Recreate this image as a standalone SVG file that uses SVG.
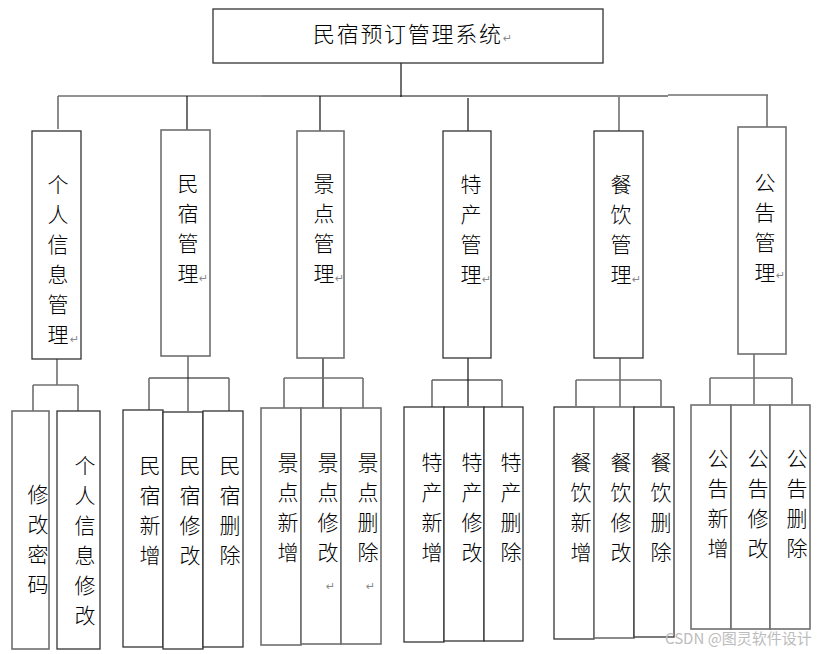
<svg xmlns="http://www.w3.org/2000/svg" width="825" height="654" viewBox="0 0 825 654">
<style>
.b{fill:#fff;stroke:#333;stroke-width:1.3}
.g{fill:#fff;stroke:#6f6f6f;stroke-width:1.6}
.lk{stroke:#111;stroke-width:1.2;fill:none}
.lg{stroke:#6f6f6f;stroke-width:1.6;fill:none}
.t{font-family:"Noto Sans CJK SC","Noto Sans CJK JP",sans-serif;font-weight:300;font-size:21px;fill:#000;text-anchor:middle}
.tt{font-family:"Noto Sans CJK SC","Noto Sans CJK JP",sans-serif;font-weight:300;font-size:22px;fill:#000;letter-spacing:1.7px}
.r{font-family:"DejaVu Sans",sans-serif;font-size:11px;fill:#888}
.wm{font-family:"Noto Sans CJK SC","Liberation Sans",sans-serif;font-size:15px;fill:#bcbcbc}
</style>
<rect width="825" height="654" fill="#fff"/>
<g id="connectors">
<line class="lk" x1="401" y1="63" x2="401" y2="97"/>
<line class="lg" x1="58" y1="96" x2="262" y2="96"/>
<line class="lk" x1="262" y1="96" x2="668" y2="96"/>
<line class="lg" x1="668" y1="95" x2="768" y2="95"/>
<line class="lg" x1="58" y1="96" x2="58" y2="129"/>
<line class="lk" x1="187" y1="96" x2="187" y2="130"/>
<line class="lk" x1="320" y1="96" x2="320" y2="131"/>
<line class="lk" x1="468" y1="98" x2="468" y2="131"/>
<line class="lg" x1="619" y1="97" x2="619" y2="131"/>
<line class="lg" x1="767" y1="95" x2="767" y2="127"/>
<line class="lg" x1="57" y1="359" x2="57" y2="385"/>
<line class="lg" x1="33" y1="385" x2="78" y2="385"/>
<line class="lg" x1="33" y1="385" x2="33" y2="411"/>
<line class="lg" x1="78" y1="385" x2="78" y2="411"/>
<line class="lg" x1="188" y1="356" x2="188" y2="411"/>
<line class="lk" x1="149" y1="378" x2="229" y2="378"/>
<line class="lg" x1="149" y1="378" x2="149" y2="410"/>
<line class="lg" x1="229" y1="378" x2="229" y2="411"/>
<line class="lk" x1="323" y1="358" x2="323" y2="408"/>
<line class="lg" x1="284" y1="378" x2="363" y2="378"/>
<line class="lg" x1="284" y1="378" x2="284" y2="408"/>
<line class="lg" x1="363" y1="378" x2="363" y2="408"/>
<line class="lk" x1="468" y1="358" x2="468" y2="406"/>
<line class="lk" x1="432" y1="380" x2="502" y2="380"/>
<line class="lg" x1="432" y1="380" x2="432" y2="407"/>
<line class="lg" x1="502" y1="380" x2="502" y2="407"/>
<line class="lg" x1="620" y1="358" x2="620" y2="407"/>
<line class="lg" x1="576" y1="380" x2="661" y2="380"/>
<line class="lg" x1="576" y1="380" x2="576" y2="406"/>
<line class="lg" x1="661" y1="380" x2="661" y2="406"/>
<line class="lg" x1="754" y1="354" x2="754" y2="404"/>
<line class="lg" x1="710" y1="378" x2="792" y2="378"/>
<line class="lg" x1="710" y1="378" x2="710" y2="404"/>
<line class="lg" x1="792" y1="378" x2="792" y2="404"/>
</g>
<g id="root">
<rect class="b" x="213" y="9" width="390" height="54"/>
<text class="tt" x="313" y="42">民宿预订管理系统</text>
<text class="r" x="503" y="42">↵</text>
</g>
<g id="n1">
<rect class="b" x="32" y="131" width="49" height="228"/>
<text class="t" y="192"><tspan x="58">个</tspan><tspan x="58" dy="30">人</tspan><tspan x="58" dy="30">信</tspan><tspan x="58" dy="30">息</tspan><tspan x="58" dy="30">管</tspan><tspan x="58" dy="30">理</tspan></text>
<text class="r" x="70" y="343">↵</text>
</g>
<g id="n2">
<rect class="g" x="161" y="130" width="49" height="226"/>
<text class="t" y="191"><tspan x="188">民</tspan><tspan x="188" dy="30">宿</tspan><tspan x="188" dy="30">管</tspan><tspan x="188" dy="30">理</tspan></text>
<text class="r" x="199" y="282">↵</text>
</g>
<g id="n3">
<rect class="g" x="297" y="131" width="47" height="227"/>
<text class="t" y="191"><tspan x="324">景</tspan><tspan x="324" dy="30">点</tspan><tspan x="324" dy="30">管</tspan><tspan x="324" dy="30">理</tspan></text>
<text class="r" x="335" y="282">↵</text>
</g>
<g id="n4">
<rect class="b" x="443" y="131" width="48" height="227"/>
<text class="t" y="192"><tspan x="471">特</tspan><tspan x="471" dy="30">产</tspan><tspan x="471" dy="30">管</tspan><tspan x="471" dy="30">理</tspan></text>
<text class="r" x="482" y="283">↵</text>
</g>
<g id="n5">
<rect class="b" x="594" y="131" width="49" height="227"/>
<text class="t" y="192"><tspan x="621">餐</tspan><tspan x="621" dy="30">饮</tspan><tspan x="621" dy="30">管</tspan><tspan x="621" dy="30">理</tspan></text>
<text class="r" x="632" y="283">↵</text>
</g>
<g id="n6">
<rect class="g" x="738" y="127" width="48" height="227"/>
<text class="t" y="190"><tspan x="765">公</tspan><tspan x="765" dy="30">告</tspan><tspan x="765" dy="30">管</tspan><tspan x="765" dy="30">理</tspan></text>
<text class="r" x="776" y="279">↵</text>
</g>
<g id="n1a">
<rect class="g" x="12" y="411" width="37" height="238"/>
<text class="t" y="502"><tspan x="38">修</tspan><tspan x="38" dy="30">改</tspan><tspan x="38" dy="30">密</tspan><tspan x="38" dy="30">码</tspan></text>
</g>
<g id="n1b">
<rect class="b" x="57" y="411" width="43" height="238"/>
<text class="t" y="473"><tspan x="85">个</tspan><tspan x="85" dy="30">人</tspan><tspan x="85" dy="30">信</tspan><tspan x="85" dy="30">息</tspan><tspan x="85" dy="30">修</tspan><tspan x="85" dy="30">改</tspan></text>
</g>
<g id="n2a">
<rect class="b" x="123" y="410" width="40" height="237"/>
<text class="t" y="473"><tspan x="150">民</tspan><tspan x="150" dy="30">宿</tspan><tspan x="150" dy="30">新</tspan><tspan x="150" dy="30">增</tspan></text>
</g>
<g id="n2b">
<rect class="b" x="163" y="412" width="40" height="237"/>
<text class="t" y="473"><tspan x="190">民</tspan><tspan x="190" dy="30">宿</tspan><tspan x="190" dy="30">修</tspan><tspan x="190" dy="30">改</tspan></text>
</g>
<g id="n2c">
<rect class="b" x="203" y="411" width="40" height="236"/>
<text class="t" y="473"><tspan x="230">民</tspan><tspan x="230" dy="30">宿</tspan><tspan x="230" dy="30">删</tspan><tspan x="230" dy="30">除</tspan></text>
</g>
<g id="n3a">
<rect class="g" x="261" y="408" width="40" height="237"/>
<text class="t" y="470"><tspan x="288">景</tspan><tspan x="288" dy="30">点</tspan><tspan x="288" dy="30">新</tspan><tspan x="288" dy="30">增</tspan></text>
</g>
<g id="n3b">
<rect class="g" x="301" y="408" width="40" height="236"/>
<text class="t" y="470"><tspan x="328">景</tspan><tspan x="328" dy="30">点</tspan><tspan x="328" dy="30">修</tspan><tspan x="328" dy="30">改</tspan></text>
<text class="r" x="326" y="590">↵</text>
</g>
<g id="n3c">
<rect class="g" x="341" y="408" width="40" height="236"/>
<text class="t" y="470"><tspan x="368">景</tspan><tspan x="368" dy="30">点</tspan><tspan x="368" dy="30">删</tspan><tspan x="368" dy="30">除</tspan></text>
<text class="r" x="366" y="590">↵</text>
</g>
<g id="n4a">
<rect class="b" x="404" y="407" width="40" height="235"/>
<text class="t" y="470"><tspan x="432">特</tspan><tspan x="432" dy="30">产</tspan><tspan x="432" dy="30">新</tspan><tspan x="432" dy="30">增</tspan></text>
</g>
<g id="n4b">
<rect class="b" x="444" y="407" width="40" height="234"/>
<text class="t" y="470"><tspan x="472">特</tspan><tspan x="472" dy="30">产</tspan><tspan x="472" dy="30">修</tspan><tspan x="472" dy="30">改</tspan></text>
</g>
<g id="n4c">
<rect class="b" x="484" y="407" width="39" height="234"/>
<text class="t" y="470"><tspan x="511">特</tspan><tspan x="511" dy="30">产</tspan><tspan x="511" dy="30">删</tspan><tspan x="511" dy="30">除</tspan></text>
</g>
<g id="n5a">
<rect class="b" x="554" y="407" width="40" height="232"/>
<text class="t" y="470"><tspan x="581">餐</tspan><tspan x="581" dy="30">饮</tspan><tspan x="581" dy="30">新</tspan><tspan x="581" dy="30">增</tspan></text>
</g>
<g id="n5b">
<rect class="g" x="594" y="407" width="40" height="231"/>
<text class="t" y="470"><tspan x="621">餐</tspan><tspan x="621" dy="30">饮</tspan><tspan x="621" dy="30">修</tspan><tspan x="621" dy="30">改</tspan></text>
</g>
<g id="n5c">
<rect class="b" x="634" y="407" width="40" height="230"/>
<text class="t" y="470"><tspan x="661">餐</tspan><tspan x="661" dy="30">饮</tspan><tspan x="661" dy="30">删</tspan><tspan x="661" dy="30">除</tspan></text>
</g>
<g id="n6a">
<rect class="g" x="691" y="405" width="40" height="224"/>
<text class="t" y="466"><tspan x="718">公</tspan><tspan x="718" dy="30">告</tspan><tspan x="718" dy="30">新</tspan><tspan x="718" dy="30">增</tspan></text>
</g>
<g id="n6b">
<rect class="g" x="731" y="405" width="39" height="224"/>
<text class="t" y="466"><tspan x="758">公</tspan><tspan x="758" dy="30">告</tspan><tspan x="758" dy="30">修</tspan><tspan x="758" dy="30">改</tspan></text>
</g>
<g id="n6c">
<rect class="g" x="770" y="405" width="40" height="224"/>
<text class="t" y="466"><tspan x="797">公</tspan><tspan x="797" dy="30">告</tspan><tspan x="797" dy="30">删</tspan><tspan x="797" dy="30">除</tspan></text>
</g>
<text class="wm" x="665" y="644">CSDN @图灵软件设计</text>
</svg>
